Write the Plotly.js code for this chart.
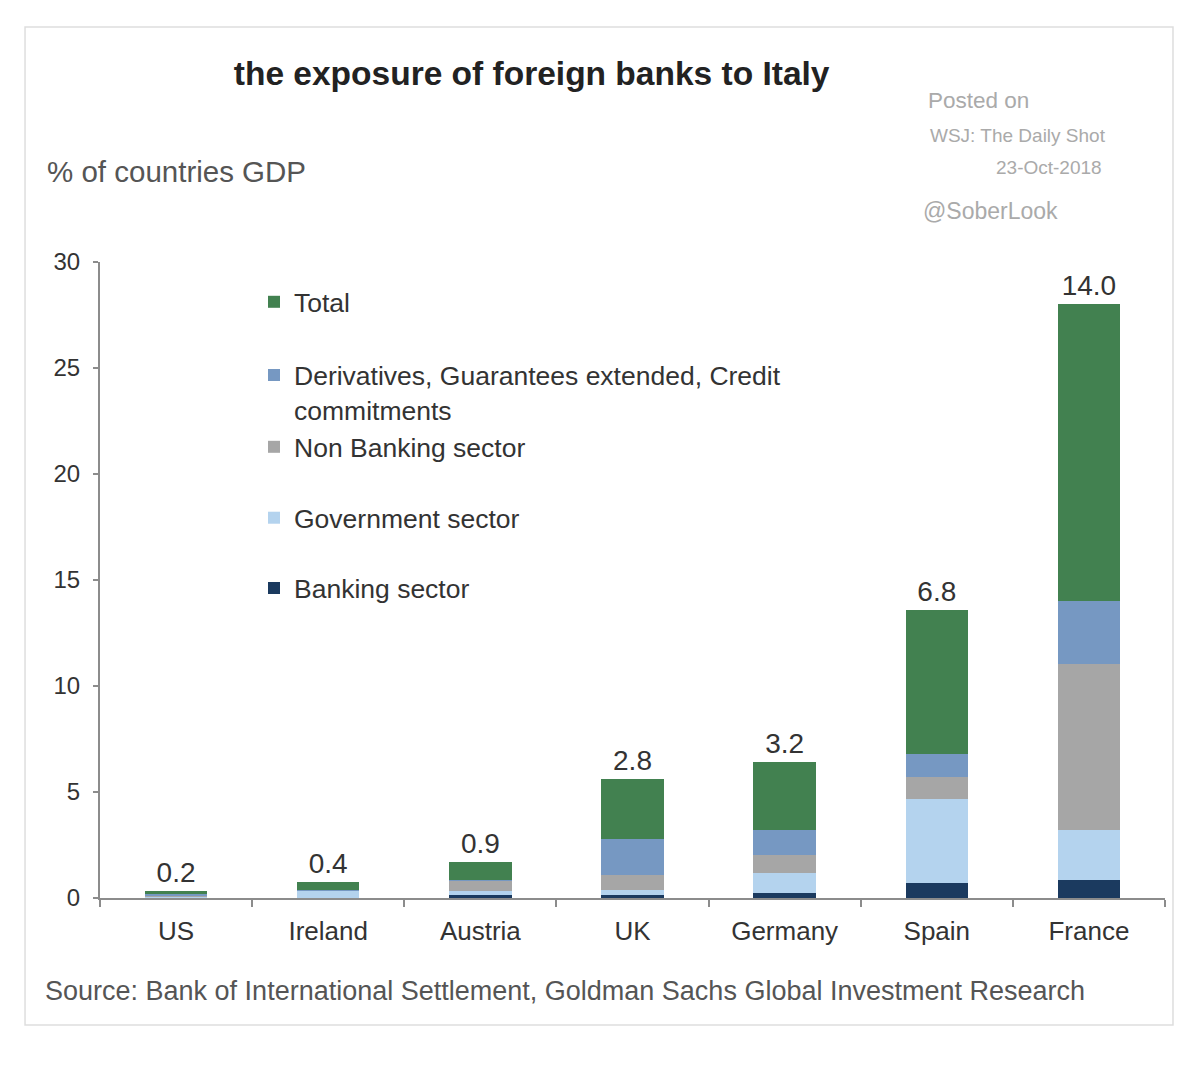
<!DOCTYPE html>
<html>
<head>
<meta charset="utf-8">
<script src="https://cdn.plot.ly/plotly-3.0.1.min.js"></script>
<style>html,body{margin:0;padding:0;background:#fff;}#chart{width:1192px;height:1066px;}</style>
</head>
<body>
<div id="chart"></div>
<script>
const countries = ["US", "Ireland", "Austria", "UK", "Germany", "Spain", "France"];
const banking     = [0.02, 0.02, 0.14, 0.16, 0.23, 0.72, 0.85];
const government  = [0.05, 0.30, 0.20, 0.20, 0.95, 3.95, 2.35];
const nonBanking  = [0.04, 0.03, 0.45, 0.72, 0.85, 1.05, 7.85];
const derivatives = [0.06, 0.03, 0.07, 1.72, 1.17, 1.08, 2.95];
const total       = [0.17, 0.38, 0.86, 2.80, 3.20, 6.80, 14.00];
const seriesNames = ["Banking sector", "Government sector", "Non Banking sector",
  "Derivatives, Guarantees extended, Credit<br>commitments", "Total"];

const FONT = "Liberation Sans, Arial, sans-serif";
const colors = ["#1b3a5f", "#b4d3ee", "#a6a6a6", "#7698c2", "#428150"];
const legendY = [0.487, 0.5975, 0.709, 0.795, 0.937];
const seriesValues = [banking, government, nonBanking, derivatives, total];

const traces = seriesValues.map((vals, i) => {
  const t = {
    type: "bar",
    name: seriesNames[i],
    x: countries,
    y: vals,
    marker: {color: colors[i], line: {width: 0}},
    legend: i === 0 ? "legend" : "legend" + (i + 1),
    showlegend: true,
    hoverinfo: "x+y+name"
  };
  if (i === 4) {
    t.text = vals.map(v => v.toFixed(1));
    t.textposition = "outside";
    t.outsidetextfont = {family: FONT, size: 28, color: "#333"};
    t.cliponaxis = false;
  }
  return t;
});

const layout = {
  width: 1192, height: 1066,
  paper_bgcolor: "#fff", plot_bgcolor: "#fff",
  margin: {l: 100, r: 27, t: 262, b: 168},
  barmode: "stack",
  bargap: 0.59,
  showlegend: true,
  font: {family: FONT, color: "#333"},
  title: {
    text: "<b>the exposure of foreign banks to Italy</b>",
    font: {family: FONT, size: 33.5, color: "#222"},
    x: 0.446, xanchor: "center", xref: "container",
    y: 0.931, yanchor: "middle", yref: "container"
  },
  xaxis: {
    type: "category",
    showline: true, linecolor: "#8c8c8c", linewidth: 2,
    ticks: "outside", tickson: "boundaries", ticklen: 7, tickcolor: "#8c8c8c", tickwidth: 2,
    ticklabelstandoff: 9,
    tickfont: {family: FONT, size: 26, color: "#333"},
    showgrid: false, zeroline: false
  },
  yaxis: {
    range: [0, 30], dtick: 5, tick0: 0,
    showline: true, linecolor: "#8c8c8c", linewidth: 2,
    ticks: "outside", ticklen: 5, tickcolor: "#8c8c8c", tickwidth: 2,
    ticklabelstandoff: 8,
    tickfont: {family: FONT, size: 24, color: "#333"},
    showgrid: false, zeroline: false
  },
  shapes: [{
    type: "rect", xref: "paper", yref: "paper",
    x0: -0.0704, x1: 1.0075, y0: -0.1997, y1: 1.3695,
    line: {color: "#dedede", width: 1.5}, fillcolor: "rgba(0,0,0,0)", layer: "below"
  }],
  annotations: [
    {text: "% of countries GDP", xref: "paper", yref: "paper", x: (45-100)/1065, y: (898-172)/636,
     xanchor: "left", yanchor: "middle", showarrow: false, font: {family: FONT, size: 29.5, color: "#555"}},
    {text: "Posted on", xref: "paper", yref: "paper", x: (926-100)/1065, y: (898-101)/636,
     xanchor: "left", yanchor: "middle", showarrow: false, font: {family: FONT, size: 22.5, color: "#aaa"}},
    {text: "WSJ: The Daily Shot", xref: "paper", yref: "paper", x: (928-100)/1065, y: (898-135)/636,
     xanchor: "left", yanchor: "middle", showarrow: false, font: {family: FONT, size: 19, color: "#aaa"}},
    {text: "23-Oct-2018", xref: "paper", yref: "paper", x: (1104-100)/1065, y: (898-168)/636,
     xanchor: "right", yanchor: "middle", showarrow: false, font: {family: FONT, size: 19, color: "#aaa"}},
    {text: "@SoberLook", xref: "paper", yref: "paper", x: (921-100)/1065, y: (898-211)/636,
     xanchor: "left", yanchor: "middle", showarrow: false, font: {family: FONT, size: 23, color: "#aaa"}},
    {text: "Source: Bank of International Settlement, Goldman Sachs Global Investment Research",
     xref: "paper", yref: "paper", x: (43-100)/1065, y: (898-991)/636,
     xanchor: "left", yanchor: "middle", showarrow: false, font: {family: FONT, size: 27, color: "#555"}}
  ]
};

seriesNames.forEach((n, i) => {
  const key = i === 0 ? "legend" : "legend" + (i + 1);
  layout[key] = {
    x: (254-100)/1065, xanchor: "left", xref: "paper",
    y: legendY[i], yanchor: "middle", yref: "paper",
    bgcolor: "rgba(0,0,0,0)", borderwidth: 0,
    font: {family: FONT, size: 26.5, color: "#333"},
    itemwidth: 30, valign: "top",
    orientation: "v"
  };
});

Plotly.newPlot("chart", traces, layout, {displayModeBar: false, staticPlot: true});
</script>
</body>
</html>
